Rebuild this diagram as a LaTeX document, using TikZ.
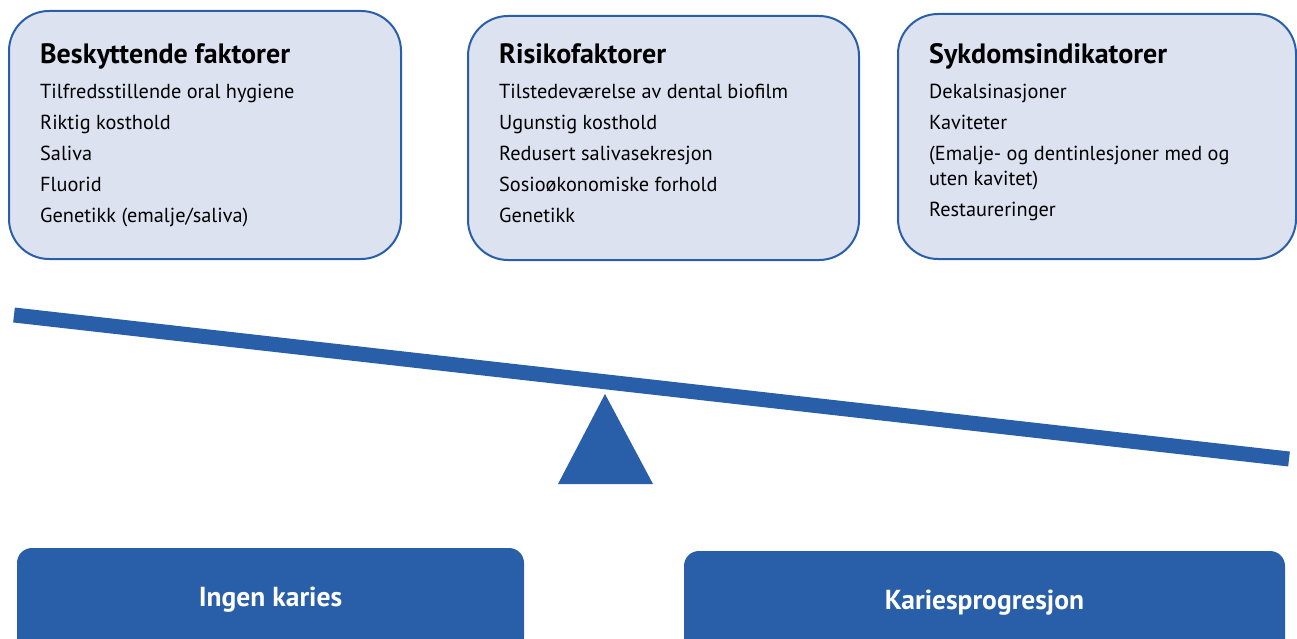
\documentclass[tikz,border=0pt]{standalone}
\usepackage{fontspec}
\setmainfont{PT Sans}
\usepackage{xcolor}
\definecolor{kariesBlue}{RGB}{41,94,169}
\definecolor{boxFill}{RGB}{220,226,240}
\usetikzlibrary{positioning}
\tikzset{
  factorbox/.style={draw=kariesBlue, line width=2pt, fill=boxFill, rounded corners=40pt, anchor=north west, inner sep=0pt},
  factortext/.style={anchor=north west, align=left, inner sep=0pt, font=\fontsize{20.3}{31}\selectfont},
  outcome/.style={fill=kariesBlue, rounded corners=15pt, minimum height=104pt, inner sep=0pt, text=white, font=\bfseries\fontsize{27.5}{30}\selectfont},
  beam/.style={kariesBlue, line width=15pt},
}
\newcommand{\boxtitle}[1]{{\bfseries\fontsize{28}{31}\selectfont #1}}

\begin{document}
\begin{tikzpicture}[x=1pt, y=-1pt]
\useasboundingbox (0,0) rectangle (1297,639);
% the three factor boxes
\node[factorbox, minimum width=392pt, minimum height=248pt] (beskytt) at (8,10) {};
\node[factorbox, minimum width=391pt, minimum height=244pt] (risiko) at (467,15) {};
\node[factorbox, minimum width=398pt, minimum height=245pt] (sykdom) at (897,13) {};
\node[factortext] (beskyttTxt) at (40,43.5) {\boxtitle{Beskyttende faktorer}\\[4pt]
  Tilfredsstillende oral hygiene\\ Riktig kosthold\\ Saliva\\ Fluorid\\ Genetikk (emalje/saliva)};
\node[factortext] (risikoTxt) at (499,43.5) {\boxtitle{Risikofaktorer}\\[4pt]
  Tilstedeværelse av dental biofilm\\ Ugunstig kosthold\\ Redusert salivasekresjon\\ Sosioøkonomiske forhold\\ Genetikk};
\node[factortext] (sykdomTxt) at (929,43.5) {\boxtitle{Sykdomsindikatorer}\\[4pt]
  Dekalsinasjoner\\ Kaviteter\\ (Emalje- og dentinlesjoner med og\\[-6pt] uten kavitet)\\ Restaureringer};
% the scale
\coordinate (beamL) at (14,315);
\coordinate (beamR) at (1289,459);
\draw[beam] (beamL) -- (beamR);
\coordinate (apex) at (605,394);
\coordinate (baseL) at (558,484);
\coordinate (baseR) at (653,484);
\fill[kariesBlue] (apex) -- (baseL) -- (baseR) -- cycle;
% outcomes
\node[outcome, minimum width=507pt] (ingen) at (270.5,600) {Ingen karies};
\node[outcome, minimum width=601pt] (progresjon) at (984.5,603) {Kariesprogresjon};
\end{tikzpicture}
\end{document}
